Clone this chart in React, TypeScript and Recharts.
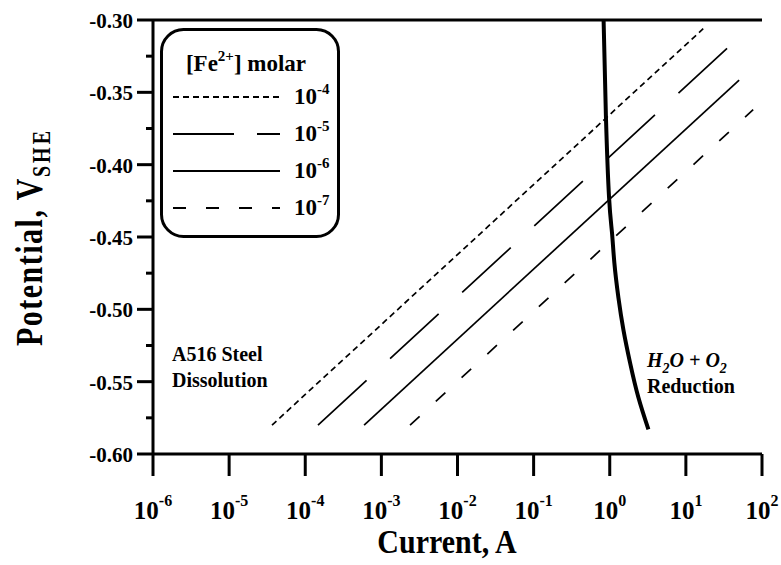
import React from "react";
import { LineChart, Line, XAxis, YAxis, ReferenceLine, Legend, Customized } from "recharts";

const FONT = '"Liberation Serif", "Times New Roman", serif';

// axis ticks
const currentTicks = [1e-6, 1e-5, 1e-4, 1e-3, 1e-2, 1e-1, 1, 10, 100];
const potentialTicks = [
  -0.6, -0.575, -0.55, -0.525, -0.5, -0.475, -0.45, -0.425, -0.4, -0.375, -0.35, -0.325, -0.3,
];
const rightTicks = potentialTicks.slice(1, -1);

// Tafel lines for A516 steel dissolution, one per [Fe2+]
const fe4 = [
  { i: 3.66e-5, v: -0.58 },
  { i: 16.9, v: -0.306 },
];
const fe5 = [
  { i: 1.47e-4, v: -0.58 },
  { i: 50.1, v: -0.312 },
];
const fe6 = [
  { i: 5.93e-4, v: -0.58 },
  { i: 50.1, v: -0.3415 },
];
const fe7 = [
  { i: 2.38e-3, v: -0.58 },
  { i: 76.6, v: -0.362 },
];

// H2O + O2 reduction curve
const reduction = [
  { i: 0.83, v: -0.3 },
  { i: 0.89, v: -0.366 },
  { i: 0.98, v: -0.423 },
  { i: 1.07, v: -0.447 },
  { i: 1.15, v: -0.468 },
  { i: 1.3, v: -0.492 },
  { i: 1.51, v: -0.514 },
  { i: 1.85, v: -0.537 },
  { i: 2.38, v: -0.561 },
  { i: 3.22, v: -0.583 },
];

const series = [
  { name: "1e-4", exp: "-4", data: fe4, dash: "6 4", legendDash: "6 4" },
  { name: "1e-5", exp: "-5", data: fe5, dash: "66 32", legendDash: "61 23" },
  { name: "1e-6", exp: "-6", data: fe6, dash: undefined, legendDash: undefined },
  { name: "1e-7", exp: "-7", data: fe7, dash: "13 22", legendDash: "13 20" },
];

const Y_TICK_SIZE = 16;
const Y_TICK_MARGIN = 4;

function PotentialTick({ x, y, payload, index }: any) {
  const axisX = x + Y_TICK_SIZE + Y_TICK_MARGIN;
  const major = index % 2 === 0;
  return (
    <g>
      <line
        x1={axisX - (major ? Y_TICK_SIZE : 7)}
        x2={axisX}
        y1={y}
        y2={y}
        stroke="#000"
        strokeWidth={3}
      />
      {major && (
        <text x={x} y={y + 8} textAnchor="end" fontFamily={FONT} fontWeight="bold" fontSize={21} fill="#000">
          {Number(payload.value).toFixed(2)}
        </text>
      )}
    </g>
  );
}

function CurrentTick({ x, y, payload }: any) {
  const exp = Math.round(Math.log10(payload.value));
  return (
    <text x={x} y={y + 39} textAnchor="middle" fontFamily={FONT} fontWeight="bold" fontSize={25} fill="#000">
      10
      <tspan fontSize={16} dy={-13}>
        {exp}
      </tspan>
    </text>
  );
}

function FeLegend() {
  return (
    <svg width={182} height={212} style={{ display: "block" }}>
      <rect x={1.5} y={1.5} width={177} height={207} rx={22} fill="#fff" stroke="#000" strokeWidth={3} />
      <text x={86} y={43} textAnchor="middle" fontFamily={FONT} fontWeight="bold" fontSize={23} fill="#000">
        [Fe
        <tspan fontSize={15} dy={-10}>
          2+
        </tspan>
        <tspan dy={10}>] molar</tspan>
      </text>
      {series.map((s, k) => {
        const y = 69 + k * 37;
        return (
          <g key={s.name}>
            <line x1={13} x2={120} y1={y} y2={y} stroke="#000" strokeWidth={1.8} strokeDasharray={s.legendDash} />
            <text x={134} y={y + 7} fontFamily={FONT} fontWeight="bold" fontSize={23} fill="#000">
              10
              <tspan fontSize={15} dy={-10}>
                {s.exp}
              </tspan>
            </text>
          </g>
        );
      })}
    </svg>
  );
}

function Labels() {
  return (
    <g fontFamily={FONT} fontWeight="bold" fill="#000">
      <text x={172} y={361} fontSize={20}>A516 Steel</text>
      <text x={172} y={387} fontSize={20}>Dissolution</text>
      <text x={647} y={367} fontSize={20} fontStyle="italic">
        H<tspan fontSize={14} dy={6}>2</tspan>
        <tspan dy={-6}>O + O</tspan>
        <tspan fontSize={14} dy={6}>2</tspan>
      </text>
      <text x={647} y={393} fontSize={20}>Reduction</text>
      <text transform="translate(447,553) scale(1,1.15)" textAnchor="middle" fontSize={30}>
        Current, A
      </text>
      <text
        transform="translate(42,237) rotate(-90) scale(1,1.25)"
        textAnchor="middle"
        fontSize={30}
        letterSpacing={1.5}
      >
        Potential, V
        <tspan fontSize={20} dy={6} letterSpacing={3}>
          SHE
        </tspan>
      </text>
    </g>
  );
}

export default function App() {
  return (
    <div style={{ position: "absolute", left: 0, top: 0, width: 781, height: 565, background: "#fff" }}>
      <LineChart width={781} height={565} margin={{ top: 20, right: 19, bottom: 51, left: 73 }}>
        <XAxis
          dataKey="i"
          type="number"
          scale="log"
          domain={[1e-6, 100]}
          ticks={currentTicks}
          interval={0}
          allowDataOverflow
          height={60}
          axisLine={{ stroke: "#000", strokeWidth: 3 }}
          tickLine={{ stroke: "#000", strokeWidth: 3 }}
          tickSize={22}
          tickMargin={4}
          tick={<CurrentTick />}
        />
        <YAxis
          dataKey="v"
          type="number"
          domain={[-0.6, -0.3]}
          ticks={potentialTicks}
          interval={0}
          allowDataOverflow
          width={80}
          axisLine={{ stroke: "#000", strokeWidth: 3 }}
          tickLine={false}
          tickSize={Y_TICK_SIZE}
          tickMargin={Y_TICK_MARGIN}
          tick={<PotentialTick />}
        />
        <YAxis
          yAxisId="right"
          orientation="right"
          type="number"
          domain={[-0.6, -0.3]}
          ticks={rightTicks}
          interval={0}
          width={0}
          mirror
          axisLine={{ stroke: "#000", strokeWidth: 3 }}
          tickLine={{ stroke: "#000", strokeWidth: 3 }}
          tickSize={16}
          tick={false}
        />
        <ReferenceLine y={-0.3} stroke="#000" strokeWidth={3} />
        {series.map((s) => (
          <Line
            key={s.name}
            data={s.data}
            dataKey="v"
            name={s.name}
            stroke="#000"
            strokeWidth={1.7}
            strokeDasharray={s.dash}
            dot={false}
            activeDot={false}
            isAnimationActive={false}
          />
        ))}
        <Line
          data={reduction}
          dataKey="v"
          name="reduction"
          type="natural"
          stroke="#000"
          strokeWidth={4}
          dot={false}
          activeDot={false}
          legendType="none"
          isAnimationActive={false}
        />
        <Legend
          content={() => <FeLegend />}
          layout="vertical"
          align="center"
          verticalAlign="middle"
          wrapperStyle={{ left: 160, top: 28, width: 182, height: 212 }}
        />
        <Customized component={Labels} />
      </LineChart>
    </div>
  );
}
